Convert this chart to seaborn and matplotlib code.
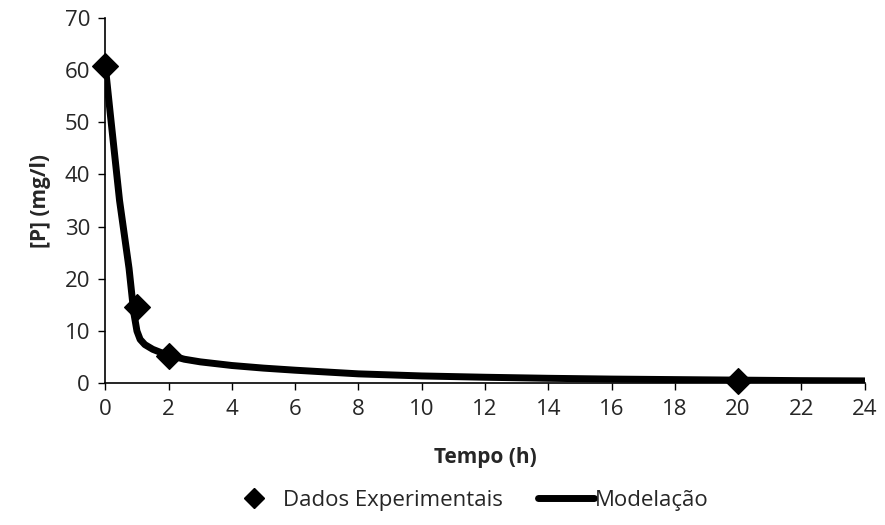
import matplotlib
matplotlib.use("Agg")
import matplotlib.pyplot as plt
import seaborn as sns
import pandas as pd
from matplotlib.lines import Line2D

sns.set_style("white")
plt.rcParams['font.family'] = ['Open Sans', 'DejaVu Sans']

tempo_exp = [0, 1, 2, 20]
p_exp = [60.7, 14.7, 5.3, 0.4]

# Model curve, points
tempo_mod = [0, 0.15, 0.3, 0.45, 0.6, 0.75, 0.9, 1.0, 1.1, 1.25, 1.5, 1.75, 2, 2.5, 3, 4,
             5, 6, 8, 10, 12, 14, 16, 18, 20, 22, 24]
p_mod = [60.7, 52.0, 43.5, 35.0, 28.5, 22.0, 13.5, 10.0, 8.4, 7.4, 6.5, 5.9, 5.4, 4.6, 4.1, 3.4,
         2.9, 2.5, 1.8, 1.4, 1.15, 0.95, 0.8, 0.7, 0.6, 0.5, 0.45]

df_exp = pd.DataFrame({'Tempo': tempo_exp, 'P': p_exp})
df_mod = pd.DataFrame({'Tempo': tempo_mod, 'P': p_mod})

fig = plt.figure(figsize=(8.85, 5.25), dpi=100)
ax = fig.add_axes([0.119, 0.270, 0.858, 0.696])

sns.lineplot(data=df_mod, x='Tempo', y='P', color='black', linewidth=5, ax=ax)
sns.scatterplot(data=df_exp, x='Tempo', y='P', marker='D', s=170, color='black',
                edgecolor='black', zorder=5, ax=ax, clip_on=False)

ax.set_xlim(0, 24)
ax.set_ylim(0, 70)
ax.set_xticks(range(0, 25, 2))
ax.set_yticks(range(0, 71, 10))

for side in ['top', 'right']:
    ax.spines[side].set_visible(False)
for side in ['left', 'bottom']:
    ax.spines[side].set_linestyle((0, (1, 1)))
    ax.spines[side].set_linewidth(1.2)
    ax.spines[side].set_color('black')

ax.tick_params(axis='both', which='major', direction='out', length=5, width=1,
               color='black', labelsize=16, pad=6, bottom=True, left=True)

ax.set_xlabel('Tempo (h)', fontsize=15, fontweight='bold', labelpad=20)
ax.set_ylabel('[P] (mg/l)', fontsize=15, fontweight='bold', labelpad=10)

handles = [
    Line2D([], [], color='black', marker='D', linestyle='None', markersize=10),
    Line2D([], [], color='black', linewidth=5),
]
fig.legend(handles, ['Dados Experimentais', 'Modelação'], loc='center',
           bbox_to_anchor=(0.528, 0.047), ncol=2, frameon=False, fontsize=16,
           handlelength=2.5, handletextpad=0.05, columnspacing=1.6)

plt.savefig('out.png', dpi=100)
plt.close()
